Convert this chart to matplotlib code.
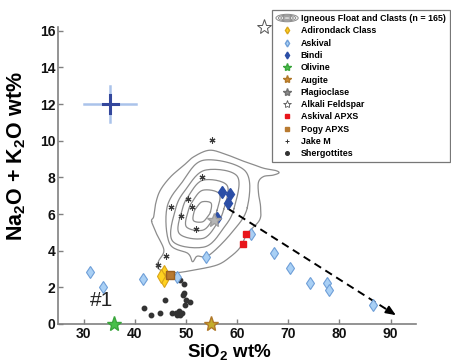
import numpy as np
import matplotlib
matplotlib.use('Agg')
import matplotlib.pyplot as plt
from matplotlib.lines import Line2D
from matplotlib.patches import Ellipse
from matplotlib.legend_handler import HandlerBase

plt.rcParams['font.family'] = ['Liberation Sans', 'DejaVu Sans']
plt.rcParams['mathtext.fontset'] = 'custom'
plt.rcParams['mathtext.rm'] = 'Liberation Sans'
plt.rcParams['mathtext.bf'] = 'Liberation Sans:bold'
plt.rcParams['mathtext.default'] = 'bf'

# ---- data (SiO2 wt%, Na2O+K2O wt%) ----
askival_x = [31.2, 33.8, 41.6, 48.2, 54.0, 62.7, 67.2, 70.4, 74.2, 77.5, 78.0, 86.5]
askival_y = [2.82, 2.03, 2.45, 2.55, 3.63, 4.89, 3.89, 3.05, 2.23, 2.25, 1.85, 1.05]

bindi_x = [57.0, 58.7, 58.3, 56.1]
bindi_y = [7.18, 7.12, 6.61, 5.76]

adirondack_x = [45.8, 45.8, 45.2]
adirondack_y = [2.85, 2.40, 2.62]

olivine_x, olivine_y = [36.0], [0.0]
augite_x, augite_y = [54.9], [0.0]
plag_x, plag_y = [55.4], [5.70]
alkfs_x, alkfs_y = [65.2], [16.2]

askival_apxs_x = [61.8, 61.1]
askival_apxs_y = [4.89, 4.35]
pogy_x, pogy_y = [46.8], [2.67]

clast_x = [55.1, 53.1, 50.4, 47.0, 51.2, 49.0, 52.0, 46.2, 44.6]
clast_y = [10.06, 8.0, 6.8, 6.36, 6.4, 5.89, 5.2, 3.7, 3.2]

sherg_x = [48.9, 49.6, 49.6, 49.5, 50.1, 50.8, 49.9, 45.9, 41.9, 43.2, 44.9,
           47.3, 48.0, 48.6, 48.8, 49.3, 48.3]
sherg_y = [2.40, 2.20, 1.70, 1.58, 1.31, 1.22, 1.04, 1.31, 0.86, 0.49, 0.58,
           0.62, 0.62, 0.72, 0.49, 0.62, 0.49]

# typical uncertainty cross
err_center = (35.2, 12.0)
err_outer = (5.1, 1.0)
err_inner = (1.5, 0.5)

# alteration trend arrow
arrow_start = (58.2, 6.3)
arrow_end = (91.5, 0.4)

# density contours of igneous float and clasts, outer to inner
contours = [
    [(43.3, 5.6), (43.7, 5.85), (44.1, 6.58), (45.0, 7.30), (47.0, 8.03), (49.6, 8.66),
     (51.5, 9.12), (54.5, 9.48), (57.4, 9.30), (60.7, 8.94), (62.6, 8.76), (65.2, 8.50),
     (67.5, 8.38), (68.2, 8.25), (67.0, 8.12), (65.2, 8.05), (64.2, 7.75), (64.2, 7.12),
     (64.6, 6.39), (64.4, 5.67), (62.0, 4.94), (60.7, 4.21), (58.7, 3.67), (56.1, 3.22),
     (51.5, 2.94), (48.0, 2.80), (45.4, 2.90), (44.4, 3.12), (44.7, 3.45), (45.7, 4.03),
     (44.3, 4.9)],
    [(62.0, 6.35), (61.6, 8.35), (53.5, 8.94), (49.3, 7.75), (46.3, 6.35), (46.8, 4.4),
     (50.4, 3.85), (51.3, 3.40), (52.2, 3.70), (54.5, 3.75), (59.0, 5.0)],
    [(59.4, 6.30), (60.02, 8.07), (53.7, 8.39), (49.97, 7.34), (48.0, 6.30), (47.38, 4.53),
     (53.7, 4.21), (57.43, 5.26)],
    [(57.4, 6.26), (58.03, 7.57), (53.35, 7.85), (50.59, 7.03), (49.3, 6.26), (48.67, 4.95),
     (53.35, 4.67), (56.11, 5.49)],
    [(56.1, 6.21), (56.52, 7.11), (53.3, 7.30), (51.40, 6.74), (50.5, 6.21), (50.08, 5.31),
     (53.3, 5.12), (55.20, 5.68)],
    [(54.8, 6.12), (54.91, 6.60), (53.2, 6.67), (52.19, 6.40), (51.6, 6.12), (51.49, 5.64),
     (53.2, 5.57), (54.21, 5.84)],
]

x_ticks = [30, 40, 50, 60, 70, 80, 90]
y_ticks = [0, 2, 4, 6, 8, 10, 12, 14, 16]


def closed_spline(pts, n=16):
    # closed Catmull-Rom curve through the traced vertices
    p = np.asarray(pts, float)
    p0, p1, p2, p3 = np.roll(p, 1, 0), p, np.roll(p, -1, 0), np.roll(p, -2, 0)
    t = np.linspace(0, 1, n, endpoint=False)[:, None, None]
    seg = 0.5 * (2 * p1 + (-p0 + p2) * t + (2 * p0 - 5 * p1 + 4 * p2 - p3) * t ** 2
                 + (-p0 + 3 * p1 - 3 * p2 + p3) * t ** 3)
    out = seg.transpose(1, 0, 2).reshape(-1, 2)
    return np.vstack([out, out[:1]])


class HandlerContour(HandlerBase):
    def create_artists(self, legend, orig_handle, xdescent, ydescent,
                       width, height, fontsize, trans):
        cx = width / 2 - xdescent
        cy = height / 2 - ydescent
        arts = []
        for k in range(4):
            arts.append(Ellipse((cx, cy), width * (1 - 0.22 * k), height * (1.2 - 0.28 * k),
                                fill=False, ec='#8a8a8a', lw=0.7, transform=trans))
        return arts


fig = plt.figure(figsize=(4.51, 3.62), dpi=100)
ax = fig.add_axes([0.1286, 0.105, 0.794, 0.82])

for c in contours:
    s = closed_spline(c)
    ax.plot(s[:, 0], s[:, 1], color='#8c8c8c', lw=0.9, zorder=1)

# error cross
ax.plot([err_center[0] - err_outer[0], err_center[0] + err_outer[0]], [err_center[1]] * 2,
        color='#aac3ea', lw=1.8, zorder=2)
ax.plot([err_center[0]] * 2, [err_center[1] - err_outer[1], err_center[1] + err_outer[1]],
        color='#aac3ea', lw=1.8, zorder=2)
ax.plot([err_center[0] - err_inner[0], err_center[0] + err_inner[0]], [err_center[1]] * 2,
        color='#33479c', lw=2.2, zorder=3)
ax.plot([err_center[0]] * 2, [err_center[1] - err_inner[1], err_center[1] + err_inner[1]],
        color='#33479c', lw=2.2, zorder=3)

# trend arrow
ax.plot([arrow_start[0], arrow_end[0] - 1.2], [arrow_start[1], arrow_end[1] + 0.21],
        color='black', lw=1.4, dashes=(4, 2.6), zorder=2)
ax.annotate('', xy=arrow_end, xytext=(arrow_end[0] - 1.5, arrow_end[1] + 0.27),
            arrowprops=dict(arrowstyle='-|>,head_length=0.6,head_width=0.25',
                            color='black', lw=1.2), zorder=3)

ax.plot(clast_x, clast_y, ls='none', marker=(6, 2, 0), ms=4.3, mew=0.8, color='#3a3a3a', zorder=4)
ax.plot(sherg_x, sherg_y, ls='none', marker='o', ms=3.2, color='#333333', zorder=4)
ax.plot(askival_x, askival_y, ls='none', marker='d', ms=6.5, mfc='#a9d0f5', mec='#6f9fd8',
        mew=0.8, zorder=5)
ax.plot(bindi_x, bindi_y, ls='none', marker='d', ms=6.5, mfc='#2b4ea6', mec='#2b4ea6', zorder=5)
ax.plot(adirondack_x, adirondack_y, ls='none', marker='d', ms=7, mfc='#ffd21f',
        mec='#d9a41a', mew=0.8, zorder=6)
ax.plot(pogy_x, pogy_y, ls='none', marker='s', ms=5.5, mfc='#b87a30', mec='#9a6020', zorder=6)
ax.plot(askival_apxs_x, askival_apxs_y, ls='none', marker='s', ms=4.8, color='#e8151b', zorder=6)
ax.plot(plag_x, plag_y, ls='none', marker='*', ms=10, mfc='#b5b5b5', mec='#a0a0a0', zorder=6)
ax.plot(olivine_x, olivine_y, ls='none', marker='*', ms=11, mfc='#48c04a', mec='#3aa53c',
        zorder=6, clip_on=False)
ax.plot(augite_x, augite_y, ls='none', marker='*', ms=11, mfc='#c4ad2c', mec='#b0782a',
        zorder=6, clip_on=False)
ax.plot(alkfs_x, alkfs_y, ls='none', marker='*', ms=11, mfc='white', mec='#555555',
        mew=0.7, zorder=6, clip_on=False)

ax.text(33.5, 1.28, '#1', fontsize=15, ha='center', va='center', color='#222222')

ax.set_xlim(25, 95)
ax.set_ylim(0, 16.2)
ax.set_xticks(x_ticks)
ax.set_yticks(y_ticks)
for lab in ax.get_xticklabels() + ax.get_yticklabels():
    lab.set_fontweight('bold')
ax.tick_params(direction='in', length=3.5, width=1, color='#808080', labelsize=10,
               pad=2, labelcolor='#111111')
for side in ['top', 'right']:
    ax.spines[side].set_visible(False)
for side in ['left', 'bottom']:
    ax.spines[side].set_color('#808080')
    ax.spines[side].set_linewidth(1.2)

ax.set_xlabel(r'SiO$_{2}$ wt%', fontsize=13.5, fontweight='bold')
ax.set_ylabel(r'Na$_{2}$O + K$_{2}$O wt%', fontsize=15.5, fontweight='bold')
ax.xaxis.set_label_coords(0.478, -0.06)
ax.yaxis.set_label_coords(-0.083, 0.565)

handles = [
    Line2D([], [], color='none'),
    Line2D([], [], ls='none', marker='d', ms=3.5, mfc='#ffd21f', mec='#d9a41a'),
    Line2D([], [], ls='none', marker='d', ms=3.5, mfc='#a9d0f5', mec='#6f9fd8'),
    Line2D([], [], ls='none', marker='d', ms=3.5, color='#2b4ea6'),
    Line2D([], [], ls='none', marker='*', ms=6, mfc='#48c04a', mec='#3aa53c'),
    Line2D([], [], ls='none', marker='*', ms=6, mfc='#d08a30', mec='#b0782a'),
    Line2D([], [], ls='none', marker='*', ms=6, mfc='#8a8a8a', mec='#707070'),
    Line2D([], [], ls='none', marker='*', ms=6, mfc='white', mec='#555555', mew=0.6),
    Line2D([], [], ls='none', marker='s', ms=3.2, color='#e8151b'),
    Line2D([], [], ls='none', marker='s', ms=3.2, color='#b87a30'),
    Line2D([], [], ls='none', marker='+', ms=3.5, color='#333333', mew=0.7),
    Line2D([], [], ls='none', marker='o', ms=2.6, color='#333333'),
]
labels = ['Igneous Float and Clasts (n = 165)', 'Adirondack Class', 'Askival', 'Bindi',
          'Olivine', 'Augite', 'Plagioclase', 'Alkali Feldspar', 'Askival APXS',
          'Pogy APXS', 'Jake M', 'Shergottites']
leg = fig.legend(handles, labels, loc='upper left', bbox_to_anchor=(0.603, 0.972),
                 prop={'weight': 'bold', 'size': 6.4}, frameon=True, fancybox=False,
                 borderpad=0.45, labelspacing=0.37, handlelength=2.5, handletextpad=0.3,
                 borderaxespad=0, handler_map={handles[0]: HandlerContour()})
leg.get_frame().set_edgecolor('#555555')
leg.get_frame().set_linewidth(0.9)

fig.savefig('out.png', dpi=100)
